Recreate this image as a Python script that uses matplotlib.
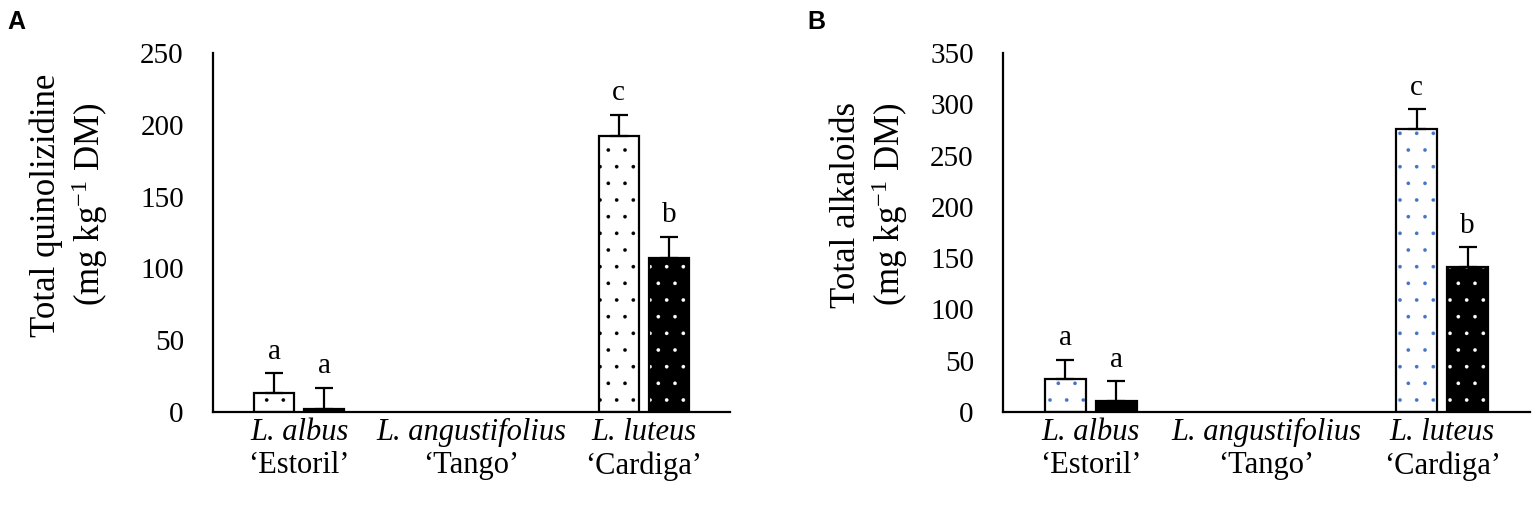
import matplotlib
matplotlib.use("Agg")
import matplotlib.pyplot as plt
import matplotlib.transforms as mtransforms
import numpy as np

# ---- data ----
species = ["L. albus", "L. angustifolius", "L. luteus"]
cultivars = ["\u2018Estoril\u2019", "\u2018Tango\u2019", "\u2018Cardiga\u2019"]

# Panel A: total quinolizidine (mg kg-1 DM)
qa_white = [13, 0, 192]
qa_white_err = [14, 0, 15]
qa_black = [2, 0, 107]
qa_black_err = [15, 0, 15]
qa_white_letters = ["a", "", "c"]
qa_black_letters = ["a", "", "b"]

# Panel B: total alkaloids (mg kg-1 DM)
ta_white = [32, 0, 276]
ta_white_err = [19, 0, 19]
ta_black = [11, 0, 141]
ta_black_err = [19, 0, 20]
ta_white_letters = ["a", "", "c"]
ta_black_letters = ["a", "", "b"]

plt.rcParams["font.family"] = ["Liberation Serif", "DejaVu Serif"]
plt.rcParams["mathtext.fontset"] = "custom"
plt.rcParams["mathtext.rm"] = "Liberation Serif"
plt.rcParams["mathtext.it"] = "Liberation Serif:italic"
plt.rcParams["hatch.linewidth"] = 0.2

W, H = 1537, 517
fig = plt.figure(figsize=(W / 100, H / 100), dpi=100)


def px_axes(left, right, top, bottom):
    return fig.add_axes([left / W, 1 - bottom / H, (right - left) / W, (bottom - top) / H])


def panel(ax, white, werr, black, berr, wlet, blet, ymax, ylabel1, dotcolor, label_x):
    x = np.arange(len(species))
    bw = 0.235
    off = 0.145
    has = [v > 0 for v in white]
    xw = x[has] - off
    xb = x[has] + off
    wv = np.array(white)[has]
    bv = np.array(black)[has]
    we = np.array(werr)[has]
    be = np.array(berr)[has]
    # white bars with dots
    ax.bar(xw, wv, bw, facecolor="white", edgecolor=dotcolor, hatch=".", linewidth=0, zorder=2)
    ax.bar(xw, wv, bw, fill=False, edgecolor="black", linewidth=1.6, zorder=3)
    # black bars with white dots
    ax.bar(xb, bv, bw, facecolor="black", edgecolor="white", hatch=".", linewidth=0, zorder=2)
    ax.bar(xb, bv, bw, fill=False, edgecolor="black", linewidth=1.6, zorder=3)
    # error bars (upper only)
    for xs, vs, es in ((xw, wv, we), (xb, bv, be)):
        ax.errorbar(xs, vs, yerr=[np.zeros_like(es), es], fmt="none", ecolor="black",
                    elinewidth=1.6, capsize=6.2, capthick=1.6, zorder=4)
    # letters
    for xs, vs, es, lets in ((xw, wv, we, np.array(wlet)[has]), (xb, bv, be, np.array(blet)[has])):
        for xi, vi, ei, li in zip(xs, vs, es, lets):
            ax.annotate(li, (xi, vi + ei), xytext=(0, 6), textcoords="offset points",
                        ha="center", va="bottom", fontsize=21)

    ax.set_xlim(-0.5, 2.5)
    ax.set_ylim(0, ymax)
    ax.set_yticks(np.arange(0, ymax + 1, 50))
    ax.set_xticks([])
    ax.tick_params(axis="y", length=0, pad=21, labelsize=21)
    for s in ("top", "right"):
        ax.spines[s].set_visible(False)
    for s in ("left", "bottom"):
        ax.spines[s].set_linewidth(1.6)
    ax.spines["bottom"].set_zorder(5)

    trans = mtransforms.blended_transform_factory(ax.transData, ax.transAxes)
    for xi, sp, cv in zip(x, species, cultivars):
        ax.text(xi, -0.057, sp, transform=trans, ha="center", va="center",
                fontsize=22, style="italic")
        ax.text(xi, -0.150, cv, transform=trans, ha="center", va="center", fontsize=22)

    ax.text(label_x, 0.577, ylabel1 + "\n(mg kg$^{-1}$ DM)", transform=ax.transAxes,
            rotation=90, ha="center", va="center", rotation_mode="anchor",
            fontsize=25, linespacing=1.2, multialignment="center")


axA = px_axes(213, 730, 53, 412)
panel(axA, qa_white, qa_white_err, qa_black, qa_black_err, qa_white_letters, qa_black_letters,
      250, "Total quinolizidine", "black", -0.277)

axB = px_axes(1003, 1530, 53, 412)
panel(axB, ta_white, ta_white_err, ta_black, ta_black_err, ta_white_letters, ta_black_letters,
      350, "Total alkaloids", "#4472C4", -0.252)

fig.text(7 / W, 1 - 22 / H, "A", fontsize=18, fontweight="bold", family="Liberation Sans",
         ha="left", va="center")
fig.text(807 / W, 1 - 22 / H, "B", fontsize=18, fontweight="bold", family="Liberation Sans",
         ha="left", va="center")

fig.savefig("out.png", dpi=100)
